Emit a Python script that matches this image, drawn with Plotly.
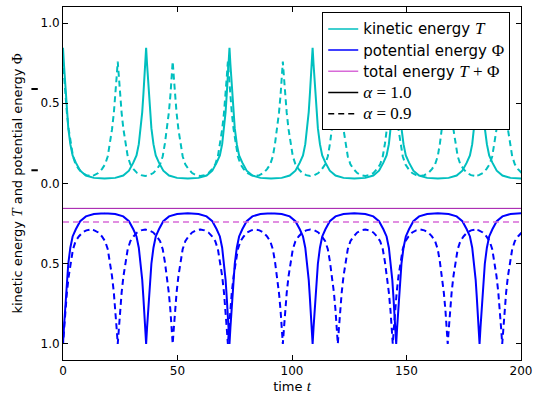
import plotly.graph_objects as go

# ---- data ----
# times of the potential minima (= kinetic maxima)
centers_a10 = [0.0, 36.3, 72.7, 109.0, 145.5, 181.9]
centers_a09 = [0.0, 23.9, 47.9, 72.0, 96.0, 120.0, 144.0, 168.0, 191.8]

# half-period shape around a minimum (time offset, value)
dt_a10 = [0, 0.4, 0.8, 1.2, 1.7, 2.3, 3.2, 4.2, 5.6, 7.5, 10.0, 13.5, 18.2]
phi_a10 = [-1.0, -0.90, -0.80, -0.71, -0.60, -0.50, -0.40, -0.33, -0.285, -0.235, -0.205, -0.19, -0.186]
kin_a10 = [0.845, 0.745, 0.645, 0.555, 0.445, 0.345, 0.245, 0.175, 0.13, 0.08, 0.05, 0.035, 0.031]

dt_a09 = [0, 0.5, 1.0, 1.7, 2.5, 3.4, 4.35, 5.5, 6.9, 8.5, 10.2, 12.0]
phi_a09 = [-1.0, -0.90, -0.79, -0.68, -0.577, -0.49, -0.41, -0.36, -0.33, -0.305, -0.292, -0.287]
kin_a09 = [0.76, 0.66, 0.55, 0.44, 0.337, 0.25, 0.17, 0.12, 0.09, 0.065, 0.052, 0.047]

total_a10 = -0.155
total_a09 = -0.24

t_span = [0, 200]
y_tickvals = [-1.0, -0.5, 0.0, 0.5, 1.0]
y_ticktext = ["1.0", "0.5", "0.0", "0.5", "1.0"]
x_tickvals = [0, 50, 100, 150, 200]


def tile(centers, dt, vals):
    xs, ys = [], []
    for c in centers:
        for d, v in zip(dt[::-1], vals[::-1]):
            xs.append(c - d)
            ys.append(v)
        for d, v in zip(dt[1:], vals[1:]):
            xs.append(c + d)
            ys.append(v)
    return xs, ys


CYAN = "#00bfbf"
BLUE = "#0000ff"
MAG = "#a010a8"
ORCHID = "#d86ad8"
DASH = "6px,4px"
MATH = "Liberation Serif, DejaVu Serif, serif"

fig = go.Figure()

x, y = tile(centers_a10, dt_a10, kin_a10)
fig.add_trace(go.Scatter(x=x, y=y, mode="lines", line=dict(color=CYAN, width=2), showlegend=False))
x, y = tile(centers_a10, dt_a10, phi_a10)
fig.add_trace(go.Scatter(x=x, y=y, mode="lines", line=dict(color=BLUE, width=2), showlegend=False))
fig.add_trace(go.Scatter(x=t_span, y=[total_a10, total_a10], mode="lines",
                         line=dict(color=MAG, width=1), showlegend=False))

x, y = tile(centers_a09, dt_a09, kin_a09)
fig.add_trace(go.Scatter(x=x, y=y, mode="lines", line=dict(color=CYAN, width=2, dash=DASH), showlegend=False))
x, y = tile(centers_a09, dt_a09, phi_a09)
fig.add_trace(go.Scatter(x=x, y=y, mode="lines", line=dict(color=BLUE, width=2, dash=DASH), showlegend=False))
fig.add_trace(go.Scatter(x=t_span, y=[total_a09, total_a09], mode="lines",
                         line=dict(color=ORCHID, width=1.5, dash=DASH), showlegend=False))

# legend entries
S = "<span style='font-size:15px'>"
M = "<span style='font-family:%s;font-size:17px'>" % MATH
leg = [
    (S + "kinetic energy </span>" + M + "<i>T</i></span>", CYAN, "solid"),
    (S + "potential energy </span>" + M + "Φ</span>", BLUE, "solid"),
    (S + "total energy </span>" + M + "<i>T</i> + Φ</span>", ORCHID, "solid"),
    (M + "<i>α</i> = 1.0</span>", "black", "solid"),
    (M + "<i>α</i> = 0.9</span>", "black", DASH),
]
for i, (name, col, dash) in enumerate(leg):
    fig.add_trace(go.Scatter(x=[None], y=[None], mode="lines", name=name,
                             legendgroup="g%d" % i,
                             line=dict(color=col, width=1.5, dash=dash)))

axis_common = dict(showline=True, linecolor="black", linewidth=1, mirror="ticks",
                   ticks="inside", ticklen=5, tickcolor="black", tickwidth=1,
                   showgrid=False, zeroline=False, automargin=False,
                   tickfont=dict(family="DejaVu Sans", size=12, color="black"))

MT = "<span style='font-family:%s;font-size:15px'>" % MATH
fig.update_xaxes(range=t_span, tickvals=x_tickvals,
                 title=dict(text="time " + MT + "<i>t</i></span>",
                            font=dict(family="DejaVu Sans", size=13, color="black"), standoff=4),
                 **axis_common)
fig.update_yaxes(range=[-1.1, 1.1], tickvals=y_tickvals, ticktext=y_ticktext,
                 title=dict(text="kinetic energy " + MT + "<i>T</i></span> and potential energy " + MT + "Φ</span>",
                            font=dict(family="DejaVu Sans", size=13, color="black"), standoff=14),
                 **axis_common)

# two small black marks left of the axis
for yv in [0.589, 0.0825]:
    fig.add_shape(type="line", xref="paper", yref="y", x0=-0.069, x1=-0.055, y0=yv, y1=yv,
                  line=dict(color="black", width=2))

fig.update_layout(
    width=534, height=401,
    margin=dict(l=63, r=13, t=7, b=41, autoexpand=False),
    paper_bgcolor="white", plot_bgcolor="white",
    font=dict(family="DejaVu Sans", size=14, color="black"),
    legend=dict(x=0.566, y=0.985, xanchor="left", yanchor="top",
                bgcolor="white", bordercolor="black", borderwidth=1,
                font=dict(family="DejaVu Sans", size=14, color="black"),
                tracegroupgap=0),
)

fig.write_html("out.html", config={"displayModeBar": False},
               post_script="document.body.style.margin='0';document.body.style.padding='0';")
